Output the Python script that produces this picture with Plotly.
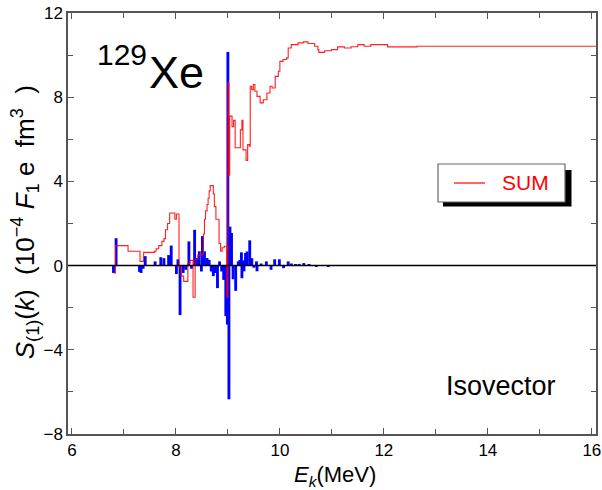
import plotly.graph_objects as go

# Blue bars: strength contributions S_(1)(k) at level energies E_k (MeV)
bar_energy = [6.80, 6.85,
              7.30, 7.33, 7.37, 7.41, 7.60, 7.71, 7.77, 7.86, 7.91,
              8.01, 8.04, 8.08, 8.14, 8.19, 8.25, 8.30, 8.36, 8.40, 8.45,
              8.49, 8.51, 8.55, 8.60, 8.64, 8.68, 8.72, 8.76, 8.80, 8.84,
              8.88, 8.92, 8.96, 8.99, 9.00, 9.02, 9.04, 9.07, 9.10, 9.15,
              9.20, 9.23, 9.26, 9.27, 9.30, 9.31, 9.34, 9.37, 9.42, 9.46,
              9.50, 9.55, 9.56, 9.64, 9.74, 9.83, 9.90, 9.99, 10.07, 10.16,
              10.22, 10.30, 10.37, 10.46, 10.56, 10.70, 10.93]
bar_value = [-0.35, 1.30,
             -0.30, -0.35, -0.15, 0.45, 0.20, 0.40, 0.35, 0.50, 0.95,
             -0.40, 0.30, -2.35, -0.35, -0.20, 1.15, -0.15, 1.70, 0.36, 0.68,
             -0.28, 1.40, 0.68, 0.36, 0.27, -0.28, -0.50, -0.35, -1.07, 0.20,
             -0.28, -0.68, -2.40, -2.80, 10.15, -6.35, 1.85, 1.55, -0.65, -1.20,
             0.20, 0.27, 0.63, -0.60, 0.25, -0.27, 0.60, 0.67, 1.20, 0.35,
             -0.10, 0.20, -0.27, 0.10, 0.20, -0.20, 0.30, 0.30, -0.12, 0.20,
             0.10, 0.05, 0.08, 0.12, 0.07, -0.05, -0.05]

# Red running sum (SUM)
sum_energy = [6.80, 6.84, 7.08, 7.31, 7.38, 7.59, 7.62, 7.67, 7.73, 7.77,
              7.80, 7.84, 7.88, 7.98, 8.01, 8.06, 8.10, 8.15, 8.23, 8.27,
              8.33, 8.37, 8.42, 8.50, 8.53, 8.55, 8.57, 8.60, 8.62, 8.64,
              8.66, 8.72, 8.74, 8.77, 8.83, 8.86, 8.89, 8.93, 8.98, 9.00,
              9.02, 9.035, 9.08, 9.11, 9.14, 9.20, 9.24, 9.27, 9.29, 9.35,
              9.38, 9.41, 9.43, 9.46, 9.49, 9.52, 9.56, 9.62, 9.68, 9.75,
              9.81, 9.85, 9.91, 9.97, 10.00, 10.06, 10.13, 10.16, 10.22, 10.35,
              10.45, 10.54, 10.67, 10.73, 10.75, 10.86, 10.99, 11.11, 11.24, 11.37,
              11.50, 11.62, 11.75, 11.94, 12.07, 12.64, 16.08]
sum_value = [-0.35, 0.95, 0.68, 0.20, 0.63, 0.68, 0.80, 0.95, 1.15, 1.28,
             1.70, 2.00, 2.50, 2.20, 2.45, -0.05, -0.50, -0.75, 0.10, 0.25,
             -1.50, 0.30, 0.50, 0.55, 1.50, 2.20, 2.60, 2.90, 3.20, 3.55,
             3.80, 3.40, 2.80, 2.20, 1.05, 0.68, 0.85, 0.92, -1.50, 8.70,
             4.30, 7.10, 6.60, 6.90, 5.60, 5.60, 6.45, 6.90, 5.50, 5.00,
             5.75, 5.67, 8.52, 8.36, 8.60, 8.28, 8.04, 7.73, 7.88, 8.20,
             8.52, 8.44, 8.99, 9.23, 9.70, 9.79, 9.87, 10.34, 10.50, 10.58,
             10.63, 10.55, 10.42, 10.26, 10.13, 10.21, 10.26, 10.39, 10.34, 10.40,
             10.50, 10.42, 10.50, 10.50, 10.39, 10.42, 10.42]

x_ticks = [6, 8, 10, 12, 14, 16]
y_ticks = [-8, -4, 0, 4, 8, 12]

FONT = "Liberation Sans, Arial, sans-serif"
AX = "#555555"
NB = "\u00a0"

fig = go.Figure()
fig.add_trace(go.Bar(x=bar_energy, y=bar_value, width=0.055,
                     marker=dict(color="#0000ff", line=dict(width=0)),
                     showlegend=False))
fig.add_trace(go.Scatter(x=sum_energy, y=sum_value, mode="lines", name="SUM",
                         line=dict(color="rgba(255,0,0,0.88)", width=1.1, shape="hv"),
                         showlegend=False))

fig.update_layout(
    width=602, height=490,
    margin=dict(l=68, r=6, t=13, b=56, autoexpand=False),
    plot_bgcolor="white", paper_bgcolor="white",
    barmode="overlay",
    font=dict(family=FONT, size=17, color="black"),
    showlegend=False,
)
fig.update_xaxes(range=[5.925, 16.08], tickvals=x_ticks, ticks="inside", ticklen=6,
                 tickcolor=AX, showline=True, linecolor=AX, linewidth=1.5, mirror="ticks",
                 showgrid=False, zeroline=False, automargin=False,
                 minor=dict(dtick=1, tick0=0, ticks="inside", ticklen=5, tickcolor=AX))
fig.update_yaxes(range=[-8, 12], tickvals=y_ticks, ticks="inside", ticklen=6,
                 tickcolor=AX, showline=True, linecolor=AX, linewidth=1.5, mirror="ticks",
                 showgrid=False, zeroline=False, automargin=False,
                 minor=dict(dtick=2, tick0=0, ticks="inside", ticklen=5, tickcolor=AX))

# axis titles
fig.add_annotation(text="<i>E</i><sub><i>k</i></sub>(MeV)", xref="paper", yref="paper",
                   x=0.5057, y=-0.062, xanchor="center", yanchor="top",
                   showarrow=False, font=dict(size=22))
ytitle = ("<i>S</i><sub>(1)</sub>(<i>k</i>)" + NB + NB + "(10<sup>−4</sup>" + NB +
          "<i>F</i><sub>1</sub>" + NB + "e" + NB + NB + "fm<sup>3</sup>" + NB + NB + ")")
fig.add_annotation(text=ytitle,
                   xref="paper", yref="paper", x=-0.0814, y=0.503, textangle=-90,
                   xanchor="center", yanchor="middle", showarrow=False, font=dict(size=26))

# zero line
fig.add_shape(type="line", xref="paper", yref="y", x0=0, x1=1, y0=0, y1=0,
              line=dict(color="black", width=1.5), layer="above")

# legend box with shadow
fig.add_shape(type="rect", xref="paper", yref="paper", x0=0.7102, x1=0.9536,
              y0=0.5404, y1=0.6271, fillcolor="black", line=dict(width=0), layer="above")
fig.add_shape(type="rect", xref="paper", yref="paper", x0=0.7008, x1=0.9413,
              y0=0.5511, y1=0.6413, fillcolor="white", line=dict(color="#666666", width=1.2),
              layer="above")
fig.add_shape(type="line", xref="paper", yref="paper", x0=0.7311, x1=0.7898,
              y0=0.5962, y1=0.5962, line=dict(color="red", width=1.2), layer="above")
fig.add_annotation(text="SUM", xref="paper", yref="paper", x=0.8182, y=0.5974,
                   xanchor="left", yanchor="middle", showarrow=False,
                   font=dict(size=21, color="red"))

fig.add_annotation(text="129", xref="paper", yref="paper", x=0.052, y=0.901,
                   xanchor="left", yanchor="middle", showarrow=False, font=dict(size=30))
fig.add_annotation(text="Xe", xref="paper", yref="paper", x=0.149, y=0.858,
                   xanchor="left", yanchor="middle", showarrow=False, font=dict(size=45))
fig.add_annotation(text="Isovector", xref="paper", yref="paper", x=0.712, y=0.114,
                   xanchor="left", yanchor="middle", showarrow=False, font=dict(size=27))

fig.write_html("out.html", config={"displayModeBar": False})

# remove the browser's default page margin so the figure sits at the window origin
with open("out.html", "r", encoding="utf-8") as f:
    html = f.read()
html = html.replace("<body>", '<body style="margin:0;padding:0">', 1)
with open("out.html", "w", encoding="utf-8") as f:
    f.write(html)
